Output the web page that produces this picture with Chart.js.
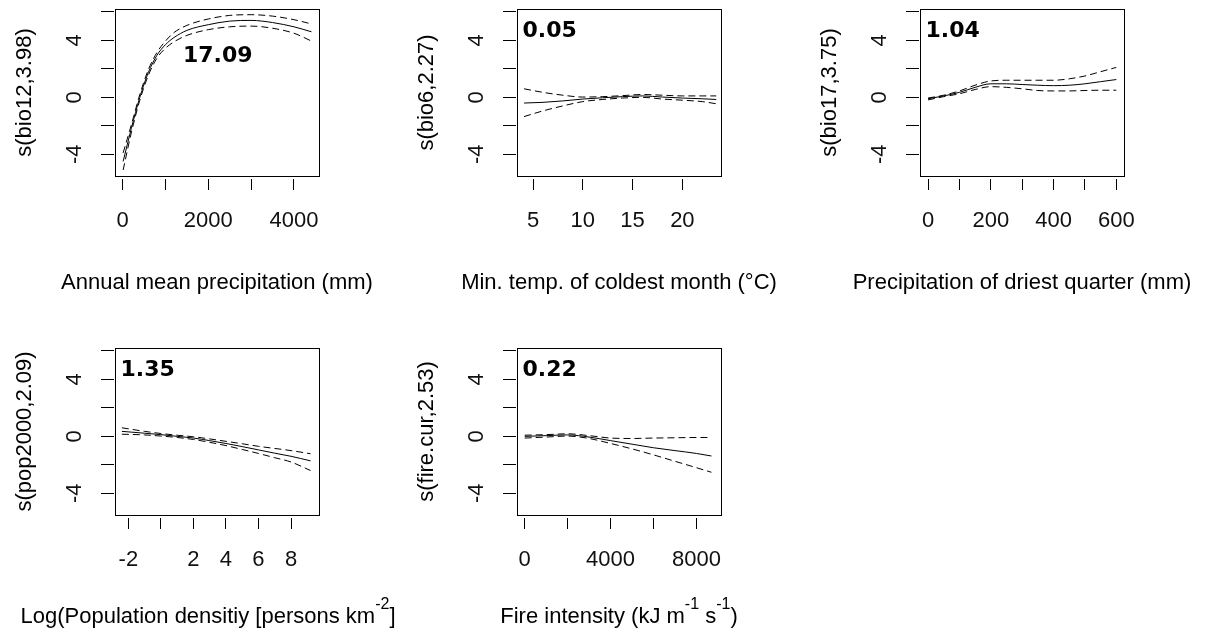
<!DOCTYPE html>
<html>
<head>
<meta charset="utf-8">
<script src="https://cdn.jsdelivr.net/npm/chart.js@4.4.1/dist/chart.umd.min.js"></script>
<style>
  html, body { margin: 0; padding: 0; background: #fff; }
  body { width: 1207px; height: 632px; position: relative; overflow: hidden; }
  canvas { position: absolute; }
</style>
</head>
<body>
<canvas id="bio12" width="402" height="339" style="left:0px;top:0px"></canvas>
<canvas id="bio6" width="402" height="339" style="left:402px;top:0px"></canvas>
<canvas id="bio17" width="402" height="339" style="left:805px;top:0px"></canvas>
<canvas id="pop2000" width="402" height="339" style="left:0px;top:339px"></canvas>
<canvas id="fire" width="402" height="339" style="left:402px;top:339px"></canvas>
<script>
// shared y axis of every smooth
const yRange = [-5.52, 6.2];
const yTicks = [-4, -2, 0, 2, 4, 6];
const yTickLabels = ['-4', '', '0', '', '4', ''];

// Annual mean precipitation, s(bio12,3.98)
const bio12X = [10, 200, 400, 600, 800, 1000, 1200, 1500, 2000, 2500, 3000, 3500, 4000, 4410];
const bio12Fit = [-4.5, -2.2, 0.0, 1.75, 2.95, 3.7, 4.2, 4.7, 5.1, 5.35, 5.4, 5.25, 4.95, 4.6];
const bio12Upper = [-3.9, -1.95, 0.2, 1.95, 3.15, 3.95, 4.55, 5.05, 5.5, 5.75, 5.8, 5.7, 5.45, 5.15];
const bio12Lower = [-5.1, -2.5, -0.2, 1.55, 2.75, 3.45, 3.9, 4.35, 4.75, 4.95, 5.0, 4.85, 4.5, 3.95];
const bio12Range = [-180, 4586];
const bio12Ticks = [0, 1000, 2000, 3000, 4000];
const bio12TickLabels = ['0', '', '2000', '', '4000'];

// Min. temp. of coldest month, s(bio6,2.27)
const bio6X = [4.1, 6, 8, 10, 12, 14, 16, 18, 20, 22, 23.4];
const bio6Fit = [-0.4, -0.35, -0.25, -0.12, -0.03, 0.05, 0.1, 0.02, -0.05, -0.1, -0.15];
const bio6Upper = [0.6, 0.35, 0.15, 0.02, 0.05, 0.12, 0.2, 0.15, 0.1, 0.1, 0.1];
const bio6Lower = [-1.35, -0.95, -0.6, -0.3, -0.15, -0.05, 0.0, -0.12, -0.2, -0.3, -0.45];
const bio6Range = [3.39, 23.88];
const bio6Ticks = [5, 10, 15, 20];
const bio6TickLabels = ['5', '10', '15', '20'];

// Precipitation of driest quarter, s(bio17,3.75)
const bio17X = [0, 50, 100, 150, 200, 250, 300, 350, 400, 450, 500, 550, 600];
const bio17Fit = [-0.1, 0.1, 0.35, 0.7, 0.95, 0.95, 0.9, 0.85, 0.82, 0.85, 0.95, 1.1, 1.25];
const bio17Upper = [-0.05, 0.15, 0.45, 0.85, 1.15, 1.2, 1.2, 1.2, 1.2, 1.3, 1.5, 1.8, 2.1];
const bio17Lower = [-0.18, 0.05, 0.25, 0.55, 0.75, 0.7, 0.6, 0.48, 0.45, 0.45, 0.48, 0.5, 0.5];
const bio17Range = [-25.5, 624.5];
const bio17Ticks = [0, 100, 200, 300, 400, 500, 600];
const bio17TickLabels = ['0', '', '200', '', '400', '', '600'];

// Log population density, s(pop2000,2.09)
const popX = [-2.4, -1, 0, 1, 2, 3, 4, 5, 6, 7, 8, 9.2];
const popFit = [0.35, 0.22, 0.12, 0.0, -0.12, -0.3, -0.5, -0.72, -0.95, -1.18, -1.4, -1.72];
const popUpper = [0.6, 0.35, 0.2, 0.08, -0.03, -0.18, -0.35, -0.52, -0.7, -0.85, -1.0, -1.22];
const popLower = [0.15, 0.1, 0.02, -0.08, -0.22, -0.42, -0.65, -0.92, -1.2, -1.5, -1.8, -2.4];
const popRange = [-2.82, 9.72];
const popTicks = [-2, 0, 2, 4, 6, 8];
const popTickLabels = ['-2', '', '2', '4', '6', '8'];

// Fire intensity, s(fire.cur,2.53)
const fireX = [0, 1000, 2000, 3000, 4000, 5000, 6000, 7000, 8000, 8700];
const fireFit = [0.0, 0.05, 0.1, -0.05, -0.3, -0.55, -0.8, -1.0, -1.2, -1.38];
const fireUpper = [0.08, 0.12, 0.18, 0.05, -0.12, -0.15, -0.12, -0.1, -0.08, -0.08];
const fireLower = [-0.12, -0.05, 0.02, -0.15, -0.5, -0.88, -1.3, -1.75, -2.2, -2.52];
const fireRange = [-359, 9146];
const fireTicks = [0, 2000, 4000, 6000, 8000];
const fireTickLabels = ['0', '', '4000', '', '8000'];

const MAIN_FONT = '22px "Liberation Sans", Arial, sans-serif';
const SUP_FONT = '16px "Liberation Sans", Arial, sans-serif';
const STAT_FONT = 'bold 22px "DejaVu Sans", Verdana, sans-serif';

// box, axis titles and the deviance number
const panelDecor = {
  id: 'panelDecor',
  afterDraw(chart, args, opts) {
    const { ctx, chartArea: a } = chart;
    ctx.save();
    ctx.strokeStyle = '#000';
    ctx.lineWidth = 1;
    ctx.strokeRect(a.left + 0.5, a.top + 0.5, a.right - a.left, a.bottom - a.top);

    ctx.fillStyle = '#000';
    ctx.textBaseline = 'alphabetic';
    ctx.textAlign = 'left';

    // x title (with superscripts)
    const widths = opts.xTitle.map((p) => {
      ctx.font = p.sup ? SUP_FONT : MAIN_FONT;
      return ctx.measureText(p.text).width;
    });
    let x = (a.left + a.right) / 2 + opts.xTitleShift - widths.reduce((s, w) => s + w, 0) / 2;
    opts.xTitle.forEach((p, i) => {
      ctx.font = p.sup ? SUP_FONT : MAIN_FONT;
      ctx.fillText(p.text, x, p.sup ? opts.xTitleBase - 14 : opts.xTitleBase);
      x += widths[i];
    });

    // y title, rotated
    ctx.save();
    ctx.translate(25, (a.top + a.bottom) / 2);
    ctx.rotate(-Math.PI / 2);
    ctx.font = MAIN_FONT;
    ctx.textAlign = 'center';
    ctx.textBaseline = 'middle';
    ctx.fillText(opts.yTitle, 0, 0);
    ctx.restore();

    // deviance explained
    ctx.font = STAT_FONT;
    ctx.fillText(opts.stat, a.left + opts.statDx, a.top + opts.statDy);
    ctx.restore();
  },
};

function makePanel(id, p) {
  const toPoints = (ys) => p.x.map((x, i) => ({ x, y: ys[i] }));
  const line = {
    pointRadius: 0,
    borderColor: '#000',
    borderWidth: 1,
    cubicInterpolationMode: 'monotone',
    fill: false,
  };
  const tickFont = { family: '"Liberation Sans", Arial, sans-serif', size: 22 };

  // eslint-disable-next-line no-new
  new Chart(document.getElementById(id), {
    type: 'line',
    data: {
      datasets: [
        { ...line, data: toPoints(p.fit) },
        { ...line, data: toPoints(p.upper), borderDash: [7, 4] },
        { ...line, data: toPoints(p.lower), borderDash: [7, 4] },
      ],
    },
    options: {
      responsive: false,
      animation: false,
      events: [],
      layout: { padding: { top: 9, right: 83, bottom: 0, left: 0 } },
      plugins: {
        legend: { display: false },
        tooltip: { enabled: false },
        panelDecor: {
          xTitle: p.xTitle,
          xTitleShift: p.xTitleShift || 0,
          xTitleBase: p.xTitleBase || 289,
          yTitle: p.yTitle,
          stat: p.stat,
          statDx: p.statDx,
          statDy: p.statDy,
        },
      },
      scales: {
        x: {
          type: 'linear',
          min: p.range[0],
          max: p.range[1],
          afterBuildTicks: (scale) => { scale.ticks = p.ticks.map((v) => ({ value: v })); },
          afterFit: (scale) => {
            scale.height = 163;
            scale.paddingLeft = 0;
            scale.paddingRight = 0;
          },
          border: { display: false },
          grid: {
            drawOnChartArea: false,
            drawTicks: true,
            tickLength: 14,
            tickColor: '#000',
            tickWidth: 1,
            tickBorderDash: [11, 3],
            tickBorderDashOffset: 11,
          },
          ticks: {
            autoSkip: false,
            maxRotation: 0,
            minRotation: 0,
            padding: 18,
            color: '#111',
            font: tickFont,
            callback: (v, i) => p.tickLabels[i],
          },
        },
        y: {
          type: 'linear',
          min: yRange[0],
          max: yRange[1],
          afterBuildTicks: (scale) => { scale.ticks = yTicks.map((v) => ({ value: v })); },
          afterFit: (scale) => {
            scale.width = 115;
            scale.paddingTop = 0;
            scale.paddingBottom = 0;
          },
          border: { display: false },
          grid: {
            drawOnChartArea: false,
            drawTicks: true,
            tickLength: 14,
            tickColor: '#000',
            tickWidth: 1,
            tickBorderDash: [13, 1],
          },
          ticks: {
            autoSkip: false,
            minRotation: 90,
            maxRotation: 90,
            crossAlign: 'center',
            padding: 16,
            color: '#111',
            font: tickFont,
            callback: (v, i) => yTickLabels[i],
          },
        },
      },
    },
    plugins: [panelDecor],
  });
}

makePanel('bio12', {
  x: bio12X, fit: bio12Fit, upper: bio12Upper, lower: bio12Lower,
  range: bio12Range, ticks: bio12Ticks, tickLabels: bio12TickLabels,
  xTitle: [{ text: 'Annual mean precipitation (mm)' }],
  yTitle: 's(bio12,3.98)',
  stat: '17.09', statDx: 68, statDy: 52.7,
});

makePanel('bio6', {
  x: bio6X, fit: bio6Fit, upper: bio6Upper, lower: bio6Lower,
  range: bio6Range, ticks: bio6Ticks, tickLabels: bio6TickLabels,
  xTitle: [{ text: 'Min. temp. of coldest month (°C)' }],
  yTitle: 's(bio6,2.27)',
  stat: '0.05', statDx: 5.5, statDy: 27.7,
});

makePanel('bio17', {
  x: bio17X, fit: bio17Fit, upper: bio17Upper, lower: bio17Lower,
  range: bio17Range, ticks: bio17Ticks, tickLabels: bio17TickLabels,
  xTitle: [{ text: 'Precipitation of driest quarter (mm)' }],
  yTitle: 's(bio17,3.75)',
  stat: '1.04', statDx: 5.5, statDy: 27.7,
});

makePanel('pop2000', {
  x: popX, fit: popFit, upper: popUpper, lower: popLower,
  range: popRange, ticks: popTicks, tickLabels: popTickLabels,
  xTitle: [
    { text: 'Log(Population densitiy [persons km' },
    { text: '-2', sup: true },
    { text: ']' },
  ],
  xTitleShift: -9,
  xTitleBase: 284,
  yTitle: 's(pop2000,2.09)',
  stat: '1.35', statDx: 5.5, statDy: 27.7,
});

makePanel('fire', {
  x: fireX, fit: fireFit, upper: fireUpper, lower: fireLower,
  range: fireRange, ticks: fireTicks, tickLabels: fireTickLabels,
  xTitle: [
    { text: 'Fire intensity (kJ m' },
    { text: '-1', sup: true },
    { text: ' s' },
    { text: '-1', sup: true },
    { text: ')' },
  ],
  xTitleBase: 284,
  yTitle: 's(fire.cur,2.53)',
  stat: '0.22', statDx: 5.5, statDy: 27.7,
});
</script>
</body>
</html>
